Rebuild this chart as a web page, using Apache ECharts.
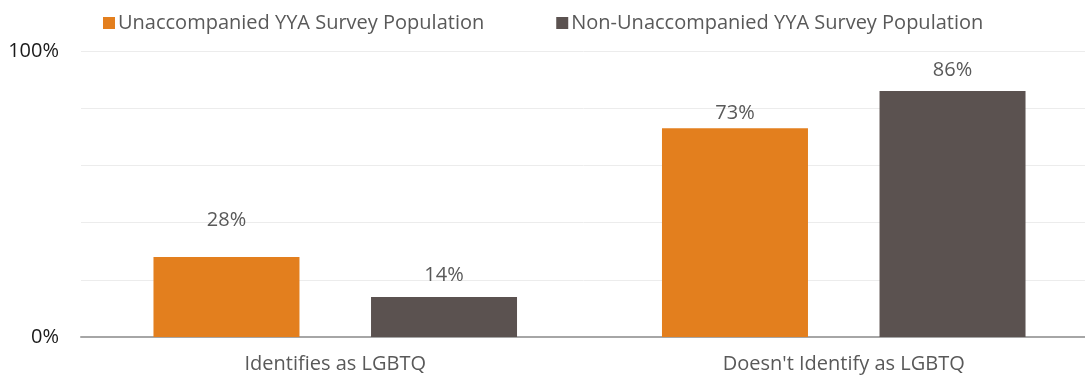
<!DOCTYPE html>
<html>
<head>
<meta charset="utf-8">
<script src="https://cdn.jsdelivr.net/npm/echarts@6/dist/echarts.min.js"></script>
<style>
  html, body { margin: 0; padding: 0; background: #fff; }
  #chart { width: 1085px; height: 379px; }
</style>
</head>
<body>
<div id="chart"></div>
<script>
// Share of YYA respondents by LGBTQ identification
const categories = ['Identifies as LGBTQ', "Doesn't Identify as LGBTQ"];
const seriesNames = ['Unaccompanied YYA Survey Population', 'Non-Unaccompanied YYA Survey Population'];
const unaccompanied = [28, 73];
const nonUnaccompanied = [14, 86];
const yTickLabels = { 0: '0%', 100: '100%' };

const FONT = '"Open Sans", "Noto Sans", sans-serif';
const labelStyle = {
  show: true,
  position: 'top',
  color: '#595959',
  fontSize: 20,
  fontFamily: FONT,
  formatter: p => p.value + '%'
};

const chart = echarts.init(document.getElementById('chart'), null, { renderer: 'canvas' });
chart.setOption({
  animation: false,
  textStyle: { fontFamily: FONT },
  legend: {
    left: 98,
    top: 8,
    itemWidth: 12,
    itemHeight: 12,
    itemGap: 72,
    icon: 'rect',
    textStyle: { color: '#595959', fontSize: 20, fontFamily: FONT, padding: [0, 0, 0, -2] },
    data: seriesNames
  },
  grid: {
    left: 81, right: -13, top: 51, bottom: 42,
    containLabel: false,
    outerBoundsMode: 'none'
  },
  xAxis: {
    type: 'category',
    data: categories,
    axisTick: { show: false },
    axisLine: { lineStyle: { color: '#a6a6a6', width: 2 } },
    axisLabel: { color: '#595959', fontSize: 20, fontFamily: FONT, margin: 17 }
  },
  yAxis: {
    type: 'value',
    min: 0,
    max: 100,
    interval: 20,
    axisLine: { show: false },
    axisTick: { show: false },
    splitLine: { lineStyle: { color: '#ececec', width: 1 } },
    axisLabel: {
      color: '#1a1a1a',
      fontSize: 20,
      fontFamily: FONT,
      margin: 22,
      formatter: v => yTickLabels[v] || ''
    }
  },
  series: [
    {
      name: seriesNames[0],
      type: 'bar',
      data: unaccompanied.map((v, i) => ({
        value: v,
        label: { distance: [27, 5][i] }
      })),
      barWidth: 146,
      barGap: '49%',
      itemStyle: { color: '#E37F1E' },
      label: labelStyle
    },
    {
      name: seriesNames[1],
      type: 'bar',
      data: nonUnaccompanied.map((v, i) => ({
        value: v,
        label: { distance: [12, 11][i] }
      })),
      barWidth: 146,
      itemStyle: { color: '#5B5250' },
      label: labelStyle
    }
  ]
});
</script>
</body>
</html>
